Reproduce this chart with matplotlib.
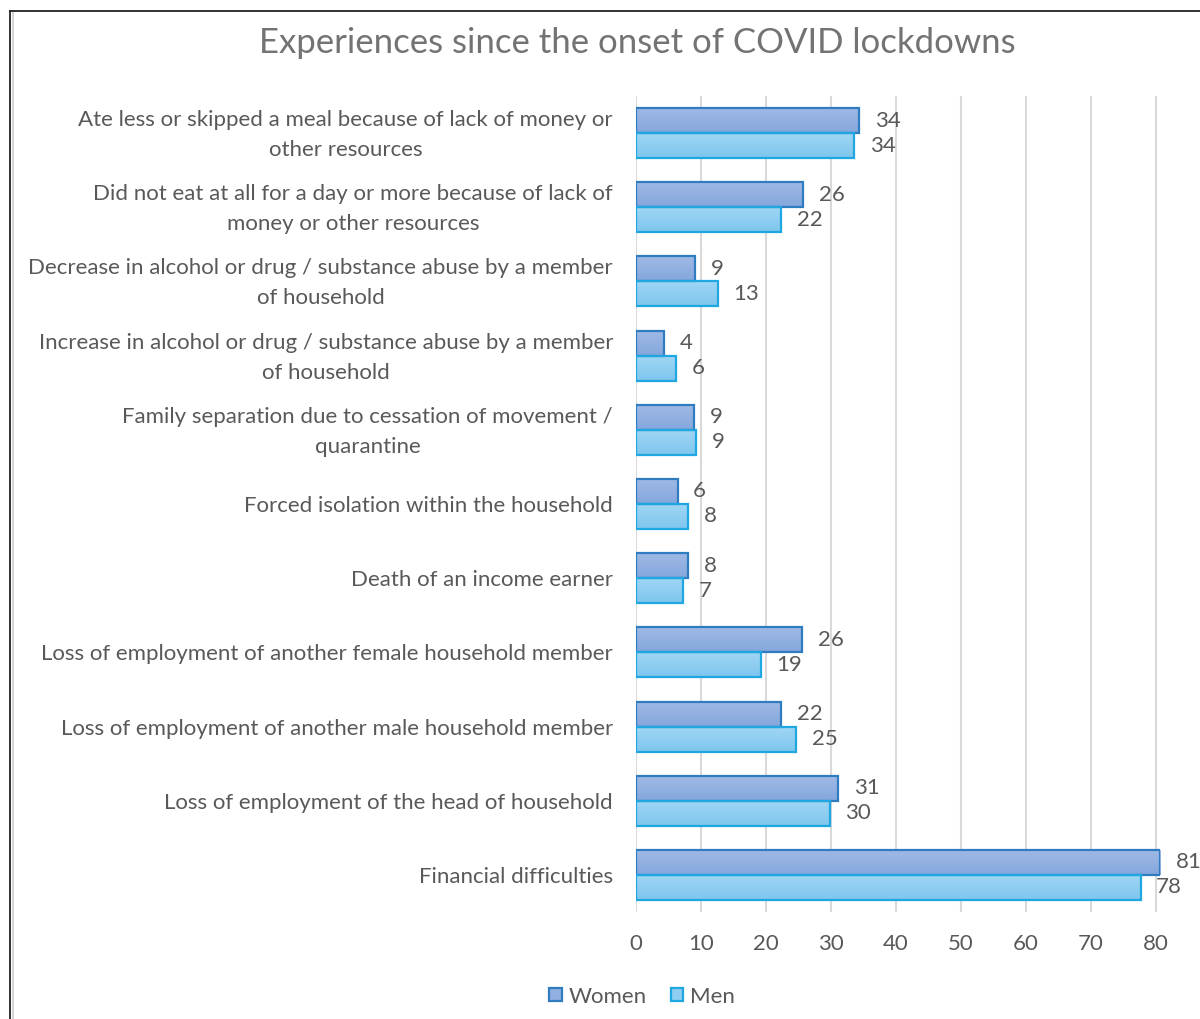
import numpy as np
import matplotlib.pyplot as plt
import matplotlib.transforms as mtransforms
from matplotlib.lines import Line2D
from matplotlib.patches import Patch
from matplotlib.colors import LinearSegmentedColormap

plt.rcParams['font.family'] = ['Lato', 'DejaVu Sans']

categories = [
    "Ate less or skipped a meal because of lack of money or\nother resources",
    "Did not eat at all for a day or more because of lack of\nmoney or other resources",
    "Decrease in alcohol or drug / substance abuse by a member\nof household",
    "Increase in alcohol or drug / substance abuse by a member\nof household",
    "Family separation due to cessation of movement /\nquarantine",
    "Forced isolation within the household",
    "Death of an income earner",
    "Loss of employment of another female household member",
    "Loss of employment of another male household member",
    "Loss of employment of the head of household",
    "Financial difficulties",
]
women = [34.3, 25.7, 9.1, 4.3, 8.9, 6.4, 8.0, 25.6, 22.3, 31.1, 80.6]
men = [33.6, 22.3, 12.6, 6.2, 9.2, 8.0, 7.2, 19.2, 24.6, 29.8, 77.6]
xticks = [0, 10, 20, 30, 40, 50, 60, 70, 80]

text_grey = '#595959'
fs = 16.0
w_top, w_bot, w_edge = '#a0b9e5', '#84a7dd', '#2f7cc1'
m_top, m_bot, m_edge = '#a0d6f4', '#7ec6ee', '#1fa7e1'


def gradient_bars(ax, ys, widths, h, top, bottom, edge, label):
    bars = ax.barh(ys, widths, height=h, facecolor='none', edgecolor=edge,
                   linewidth=1.6, label=label, zorder=3)
    cmap = LinearSegmentedColormap.from_list(label, [top, bottom])
    grad = np.linspace(0, 1, 64).reshape(-1, 1)
    for b in bars:
        x0, y0 = b.get_x(), b.get_y()
        im = ax.imshow(grad, cmap=cmap, aspect='auto', origin='upper',
                       extent=(x0, x0 + b.get_width(), y0 + b.get_height(), y0),
                       zorder=2.5, interpolation='bilinear')
        im.set_clip_path(b)
    return bars


fig = plt.figure(figsize=(12, 10.19), dpi=100)
ax = fig.add_axes([0.53, 0.105, 0.4367, 0.8008])

y = np.arange(len(categories))
h = 0.337
gradient_bars(ax, y - h / 2, women, h, w_top, w_bot, w_edge, 'Women')
gradient_bars(ax, y + h / 2, men, h, m_top, m_bot, m_edge, 'Men')

# value labels just past the end of each bar
for i in range(len(categories)):
    ax.text(women[i] + 2.4, y[i] - h / 2, f"{women[i]:.0f}", va='center', ha='left',
            fontsize=fs, color=text_grey, clip_on=False)
    ax.text(men[i] + 2.4, y[i] + h / 2, f"{men[i]:.0f}", va='center', ha='left',
            fontsize=fs, color=text_grey, clip_on=False)

ax.set_xlim(0, 80.6)
ax.set_ylim(len(categories) - 0.5, -0.5)
ax.set_xticks(xticks)
ax.set_yticks(y)
ax.set_yticklabels(categories, fontsize=fs, color=text_grey, linespacing=1.62,
                   multialignment='center')
ax.tick_params(axis='x', length=0, pad=16, labelsize=fs, labelcolor=text_grey)
ax.tick_params(axis='y', length=0, pad=16.5)
ax.xaxis.grid(True, color='#d9d9d9', linewidth=1.5, zorder=0)
ax.set_axisbelow(True)
for s in ax.spines.values():
    s.set_visible(False)

# nudge the two-line category labels up a little
lift = mtransforms.ScaledTranslation(0, 5 / 100, fig.dpi_scale_trans)
for lab in ax.get_yticklabels():
    if '\n' in lab.get_text():
        lab.set_transform(lab.get_transform() + lift)

fig.text(0.531, 0.958, "Experiences since the onset of COVID lockdowns", ha='center', va='center',
         fontsize=25, color='#737373')

handles = [Patch(facecolor='#92b0e1', edgecolor=w_edge, linewidth=1.6, label='Women'),
           Patch(facecolor='#8fcef1', edgecolor=m_edge, linewidth=1.6, label='Men')]
fig.legend(handles=handles, loc='center', bbox_to_anchor=(0.535, 0.022), ncol=2, frameon=False,
           fontsize=fs, labelcolor=text_grey, handlelength=0.55, handleheight=0.55,
           handletextpad=0.3, columnspacing=1.1)

# chart frame
fig.add_artist(Line2D([0.0085, 0.0085], [0, 0.989], color='#222222', linewidth=1.3))
fig.add_artist(Line2D([0.0105, 0.0105], [0, 0.988], color='#d0d0d0', linewidth=1.3))
fig.add_artist(Line2D([0.0085, 1.0], [0.989, 0.989], color='#222222', linewidth=1.3))

fig.savefig('out.png', dpi=100)
